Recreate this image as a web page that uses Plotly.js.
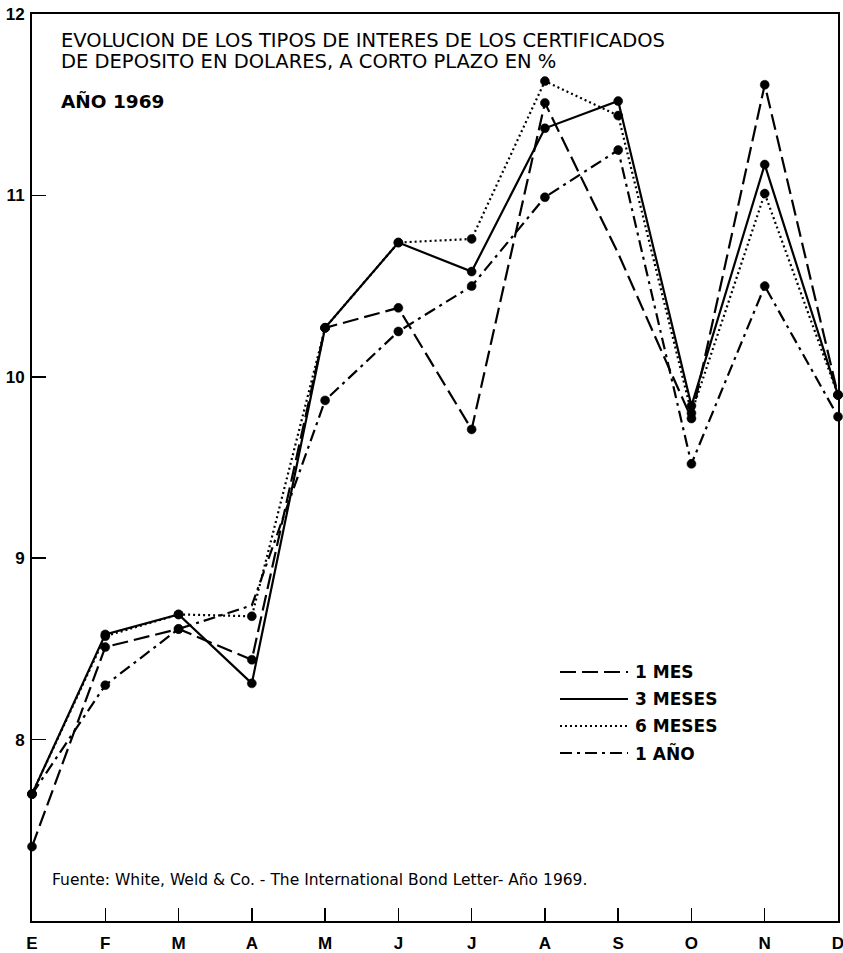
<!DOCTYPE html>
<html>
<head>
<meta charset="utf-8">
<script src="https://cdn.plot.ly/plotly-3.0.1.min.js"></script>
<style>html,body{margin:0;padding:0;background:#fff;}#chart{width:843px;height:953px;}</style>
</head>
<body>
<div id="chart"></div>
<script>
// Month tick labels (Spanish initials)
const months = ["E","F","M","A","M","J","J","A","S","O","N","D"];
// Series values (% interest)
const unMes    = [7.41, 8.51, 8.61, 8.44, 10.27, 10.38, 9.71, 11.51, 10.68, 9.77, 11.61, 9.90];
const tresMeses= [7.70, 8.58, 8.69, 8.31, 10.27, 10.74, 10.58, 11.37, 11.52, 9.84, 11.17, 9.90];
const seisMeses= [7.70, 8.57, 8.69, 8.68, 10.27, 10.74, 10.76, 11.63, 11.44, 9.80, 11.01, 9.90];
const unAno    = [7.70, 8.30, 8.61, 8.74, 9.87, 10.25, 10.50, 10.99, 11.25, 9.52, 10.50, 9.78];
const seriesNames = ["1 MES","3 MESES","6 MESES","1 AÑO"];
const yTicks = [8, 9, 10, 11, 12];

const xIdx = months.map((m, i) => i);
const dashes = ["16px,6px", "solid", "2px,3px", "12px,5px,3px,5px"];
const allSeries = [unMes, tresMeses, seisMeses, unAno];
// points without visible dot in the print
const hiddenDots = [[8], [], [], [3]];

const traces = allSeries.map((vals, k) => ({
  x: xIdx, y: vals, type: "scatter", mode: "lines+markers", name: seriesNames[k],
  line: {color: "#000", width: 2.2, dash: dashes[k]},
  marker: {color: "#000", opacity: 1, line: {color: "#000", width: 0.5},
    size: vals.map((v, i) => hiddenDots[k].includes(i) ? 0 : 9)},
  showlegend: false, cliponaxis: false
}));

const L = 32, R = 838, T = 14, B = 921;
const px = x => (x - L) / (R - L);
const py = y => (B - y) / (B - T);
const FONT = "DejaVu Sans, sans-serif";
const TICKFONT = "Liberation Sans, Arial, sans-serif";

const shapes = [];
const annotations = [];
const legY = [672, 699, 726, 753];
seriesNames.forEach((n, k) => {
  shapes.push({type: "line", xref: "paper", yref: "paper",
    x0: px(560), x1: px(628), y0: py(legY[k]), y1: py(legY[k]),
    line: {color: "#000", width: 2.2, dash: dashes[k]}});
  annotations.push({xref: "paper", yref: "paper", x: px(633), y: py(legY[k]),
    xanchor: "left", yanchor: "middle", showarrow: false, text: n,
    font: {family: FONT, size: 17, color: "#000", weight: "bold"}});
});
const titleLines = ["EVOLUCION DE LOS TIPOS DE INTERES DE LOS CERTIFICADOS",
                    "DE DEPOSITO EN DOLARES, A CORTO PLAZO EN %"];
const titleY = [40, 62];
titleLines.forEach((t, i) => annotations.push({xref: "paper", yref: "paper", x: px(59), y: py(titleY[i]),
  xanchor: "left", yanchor: "middle", showarrow: false, align: "left", text: t,
  font: {family: FONT, size: 19.5, color: "#000"}}));
annotations.push({xref: "paper", yref: "paper", x: px(59), y: py(101), xanchor: "left", yanchor: "middle",
  showarrow: false, text: "AÑO 1969",
  font: {family: FONT, size: 18.5, color: "#000", weight: "bold"}});
annotations.push({xref: "paper", yref: "paper", x: px(50), y: py(880), xanchor: "left", yanchor: "middle",
  showarrow: false, text: "Fuente: White, Weld & Co. - The International Bond Letter- Año 1969.",
  font: {family: FONT, size: 15.5, color: "#000"}});

const layout = {
  width: 843, height: 953,
  margin: {l: L, r: 843 - R, t: T, b: 953 - B},
  paper_bgcolor: "#fff", plot_bgcolor: "#fff",
  xaxis: {range: [0, 11], tickvals: xIdx, ticktext: months, showgrid: false, zeroline: false,
    ticks: "inside", ticklen: 13, tickwidth: 1.5, tickcolor: "#000", ticklabeloverflow: "allow",
    showline: true, linecolor: "#000", linewidth: 2, mirror: true, ticklabelstandoff: 6,
    tickfont: {family: TICKFONT, size: 17, color: "#000", weight: "bold"}},
  yaxis: {range: [7, 12], tickvals: yTicks, ticktext: yTicks.map(String), showgrid: false, zeroline: false,
    ticks: "inside", ticklen: 14, tickwidth: 1.5, tickcolor: "#000", ticklabeloverflow: "allow",
    showline: true, linecolor: "#000", linewidth: 2, mirror: true, ticklabelstandoff: 2,
    tickfont: {family: TICKFONT, size: 17, color: "#000", weight: "bold"}},
  shapes: shapes, annotations: annotations, showlegend: false
};

Plotly.newPlot("chart", traces, layout, {displayModeBar: false, staticPlot: true});
</script>
</body>
</html>
